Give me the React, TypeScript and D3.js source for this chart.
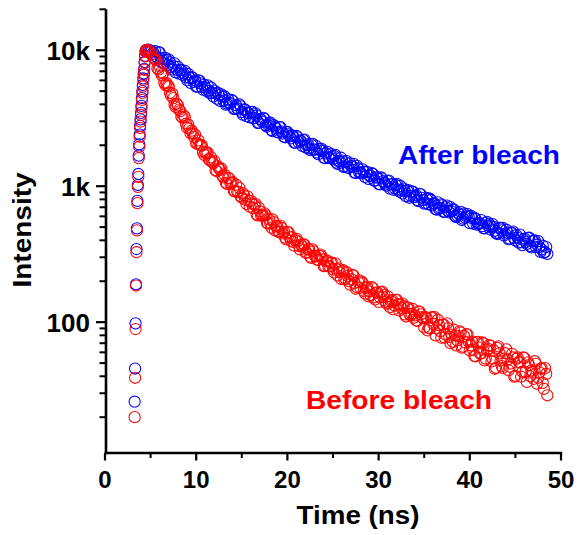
import React from "react";
import * as d3 from "d3";

// ---------- data ----------
const riseTimes = [3.25, 3.3, 3.35, 3.4, 3.45, 3.5, 3.55, 3.6, 3.65, 3.7, 3.75, 3.8, 3.85, 3.9, 3.95, 4.0, 4.05, 4.1, 4.15, 4.2, 4.25, 4.3, 4.35, 4.4, 4.45, 4.5];
const peakTimes = [4.65, 4.8, 4.95, 5.1, 5.3];
const decayTimes = [
  5.5, 5.75,
  6, 6.25, 6.5, 6.75, 7, 7.25, 7.5, 7.75, 8, 8.25, 8.5, 8.75, 9, 9.25, 9.5, 9.75,
  10, 10.25, 10.5, 10.75, 11, 11.25, 11.5, 11.75, 12, 12.25, 12.5, 12.75, 13, 13.25, 13.5, 13.75,
  14, 14.25, 14.5, 14.75, 15, 15.25, 15.5, 15.75, 16, 16.25, 16.5, 16.75, 17, 17.25, 17.5, 17.75,
  18, 18.25, 18.5, 18.75, 19, 19.25, 19.5, 19.75, 20, 20.25, 20.5, 20.75, 21, 21.25, 21.5, 21.75,
  22, 22.25, 22.5, 22.75, 23, 23.25, 23.5, 23.75, 24, 24.25, 24.5, 24.75, 25, 25.25, 25.5, 25.75,
  26, 26.25, 26.5, 26.75, 27, 27.25, 27.5, 27.75, 28, 28.25, 28.5, 28.75, 29, 29.25, 29.5, 29.75,
  30, 30.25, 30.5, 30.75, 31, 31.25, 31.5, 31.75, 32, 32.25, 32.5, 32.75, 33, 33.25, 33.5, 33.75,
  34, 34.25, 34.5, 34.75, 35, 35.25, 35.5, 35.75, 36, 36.25, 36.5, 36.75, 37, 37.25, 37.5, 37.75,
  38, 38.25, 38.5, 38.75, 39, 39.25, 39.5, 39.75, 40, 40.25, 40.5, 40.75, 41, 41.25, 41.5, 41.75,
  42, 42.25, 42.5, 42.75, 43, 43.25, 43.5, 43.75, 44, 44.25, 44.5, 44.75, 45, 45.25, 45.5, 45.75,
  46, 46.25, 46.5, 46.75, 47, 47.25, 47.5, 47.75, 48, 48.25, 48.5,
];
const midTimes = [
  5.625, 5.875,
  6.125, 6.375, 6.625, 6.875, 7.125, 7.375, 7.625, 7.875, 8.125, 8.375, 8.625, 8.875, 9.125, 9.375, 9.625, 9.875,
  10.125, 10.375, 10.625, 10.875, 11.125, 11.375, 11.625, 11.875, 12.125, 12.375, 12.625, 12.875, 13.125, 13.375, 13.625, 13.875,
  14.125, 14.375, 14.625, 14.875, 15.125, 15.375, 15.625, 15.875, 16.125, 16.375, 16.625, 16.875, 17.125, 17.375, 17.625, 17.875,
  18.125, 18.375, 18.625, 18.875, 19.125, 19.375, 19.625, 19.875, 20.125, 20.375, 20.625, 20.875, 21.125, 21.375, 21.625, 21.875,
  22.125, 22.375, 22.625, 22.875, 23.125, 23.375, 23.625, 23.875, 24.125, 24.375, 24.625, 24.875, 25.125, 25.375, 25.625, 25.875,
  26.125, 26.375, 26.625, 26.875, 27.125, 27.375, 27.625, 27.875, 28.125, 28.375, 28.625, 28.875, 29.125, 29.375, 29.625, 29.875,
  30.125, 30.375, 30.625, 30.875, 31.125, 31.375, 31.625, 31.875, 32.125, 32.375, 32.625, 32.875, 33.125, 33.375, 33.625, 33.875,
  34.125, 34.375, 34.625, 34.875, 35.125, 35.375, 35.625, 35.875, 36.125, 36.375, 36.625, 36.875, 37.125, 37.375, 37.625, 37.875,
  38.125, 38.375, 38.625, 38.875, 39.125, 39.375, 39.625, 39.875, 40.125, 40.375, 40.625, 40.875, 41.125, 41.375, 41.625, 41.875,
  42.125, 42.375, 42.625, 42.875, 43.125, 43.375, 43.625, 43.875, 44.125, 44.375, 44.625, 44.875, 45.125, 45.375, 45.625, 45.875,
  46.125, 46.375, 46.625, 46.875, 47.125, 47.375, 47.625, 47.875, 48.125, 48.375,
];
const times = [...riseTimes, ...peakTimes, ...decayTimes];

const afterBleach = [
  // rise
  26, 45.6, 98, 190, 345, 490, 780, 1020, 1230, 1680, 2030, 2400, 2780, 3100, 3460, 3900, 4450, 5000, 5550, 6200, 6750, 7300, 8200, 9100, 9850, 10000,
  // peak
  10100, 10050, 9950, 9800, 9650,
  // decay
  9840, 8760,
  9620, 8570, 7990, 8510, 8520, 7500, 7670, 6870, 7540, 7120, 6580, 7060, 6030, 6260, 6350, 5840,
  5400, 6010, 5700, 5130, 5320, 5510, 4830, 4860, 5040, 4410, 4670, 4740, 4240, 3980, 4350, 4080,
  4230, 3710, 3740, 3990, 3500, 3680, 3280, 3450, 3510, 3170, 3430, 2920, 3130, 2970, 3120, 2740,
  2900, 2590, 2810, 2670, 2490, 2720, 2440, 2290, 2510, 2340, 2360, 2090, 2340, 2100, 2140, 2180,
  1930, 2030, 1840, 2050, 1860, 1770, 1880, 1880, 1620, 1740, 1630, 1730, 1580, 1700, 1460, 1525,
  1540, 1400, 1530, 1360, 1400, 1460, 1250, 1350, 1265, 1330, 1170, 1270, 1190, 1250, 1100, 1160,
  1040, 1160, 1090, 1030, 1090, 960, 1035, 968, 1040, 916, 938, 959, 843, 936, 850, 913,
  839, 791, 877, 822, 745, 803, 736, 792, 748, 678, 761, 692, 723, 650, 720, 642,
  652, 673, 593, 633, 648, 577, 586, 624, 534, 582, 584, 521, 529, 563, 492, 536,
  512, 480, 526, 470, 445, 494, 473, 434, 477, 408, 453, 464, 399, 417, 440, 369,
  411, 377, 418, 355, 395, 358, 395, 329, 365, 328, 318,
];
const afterBleachMid = [
  9020, 9680,
  8250, 8740, 8790, 7810, 8150, 7220, 8010, 7180, 6730, 7170, 6740, 6320, 6690, 5750, 6240, 6010,
  5420, 5950, 5350, 5560, 5030, 5050, 5320, 4580, 4810, 4860, 4240, 4550, 4570, 4050, 4070, 4320,
  3700, 3940, 3670, 3870, 3360, 3650, 3480, 3210, 3520, 3170, 3300, 2930, 3080, 3180, 2810, 2830,
  2930, 2540, 2750, 2510, 2710, 2520, 2310, 2500, 2410, 2250, 2330, 2090, 2290, 2170, 1980, 2200,
  2000, 1900, 2020, 1860, 1980, 1720, 1830, 1820, 1610, 1790, 1610, 1640, 1670, 1490, 1520, 1620,
  1390, 1500, 1370, 1470, 1400, 1260, 1410, 1260, 1240, 1280, 1280, 1130, 1190, 1230, 1100, 1160,
  1030, 1140, 1060, 1010, 1100, 1030, 941, 1021, 943, 1006, 884, 920, 930, 822, 912, 830,
  858, 775, 870, 789, 754, 817, 809, 722, 745, 673, 682, 735, 647, 698, 659, 703,
  674, 605, 608, 620, 564, 630, 600, 599, 606, 530, 575, 533, 532, 509, 490, 547,
  529, 503, 503, 452, 454, 493, 493, 448, 456, 412, 454, 415, 436, 385, 388, 405,
  388, 415, 363, 395, 399, 371, 357, 343, 324, 357,
];

const beforeBleach = [
  // rise
  20, 39, 89, 186, 327, 473, 750, 989, 1172, 1610, 1950, 2312, 2680, 2985, 3340, 3765, 4313, 4856, 5405, 6057, 6597, 7180, 8085, 9000, 9800, 10000,
  // peak
  10050, 9950, 9750, 9300, 8850,
  // decay
  8620, 7370,
  7600, 6520, 5780, 5740, 5410, 4630, 4440, 3830, 3930, 3570, 3190, 3220, 2690, 2650, 2560, 2300,
  2060, 2170, 2010, 1780, 1770, 1770, 1550, 1510, 1530, 1290, 1350, 1350, 1160, 1060, 1150, 1050,
  1070, 914, 911, 969, 822, 857, 742, 781, 781, 690, 742, 609, 653, 610, 631, 539,
  569, 496, 544, 506, 465, 511, 449, 418, 458, 421, 422, 365, 410, 363, 370, 374,
  325, 344, 303, 343, 308, 288, 307, 305, 258, 280, 257, 274, 244, 271, 221, 233,
  237, 206, 233, 200, 207, 220, 176, 198, 179, 194, 163, 182, 168, 181, 152, 165,
  141, 166, 153, 142, 155, 129, 145, 132, 146, 122, 127, 131, 110, 128, 112, 125,
  112, 102, 119, 109, 91.5, 108, 91, 108, 97, 80, 104, 86, 96, 77, 98, 78,
  81, 88, 67.5, 79, 84, 66, 71, 81, 62, 72, 56.5, 71, 65, 59, 70, 54,
  63.6, 67, 54, 45.4, 64.6, 59, 47.5, 54, 63, 44.3, 49.7, 55, 40.3, 55, 50.5, 43.2,
  54.5, 36.4, 48.4, 44.2, 38.3, 49.3, 39.1, 45.5, 35.8, 45.9, 29,
];
const beforeBleachMid = [
  8420, 7210,
  6840, 6760, 5540, 5480, 4850, 4790, 3990, 4040, 3660, 3240, 3320, 2880, 2840, 2450, 2440, 2400,
  2070, 2010, 1990, 1700, 1760, 1580, 1630, 1480, 1310, 1400, 1320, 1190, 1210, 1040, 1140, 1050,
  925, 1027, 908, 845, 888, 795, 842, 707, 744, 728, 621, 692, 607, 609, 610, 530,
  534, 569, 474, 511, 458, 493, 461, 406, 459, 398, 390, 400, 395, 343, 359, 371,
  324, 343, 297, 332, 305, 287, 314, 289, 259, 283, 257, 274, 232, 245, 249, 208,
  241, 210, 219, 189, 223, 194, 181, 203, 199, 170, 179, 155, 158, 177, 147, 165,
  153, 168, 159, 137, 138, 142, 124, 146, 136, 135, 137, 114, 128, 115, 115, 108,
  103, 120, 114, 107, 109, 87, 90, 109, 109, 90, 95, 77, 96, 81, 90, 70,
  72, 80, 73.5, 85.7, 65, 79, 81.7, 71.9, 67.5, 62.3, 56.1, 71.6, 58.7, 70.9, 52.3, 62.3,
  67.8, 51.4, 61.9, 46.2, 66.4, 52.2, 46.1, 59.1, 53, 47, 58.5, 39.7, 53.7, 50.9, 39.7, 55,
  43.1, 50.6, 40, 43, 51.6, 35.3, 42.7, 45.8, 32.3, 41.6,
];

const xMajorTicks = [0, 10, 20, 30, 40, 50];
const xMinorTicks = [5, 15, 25, 35, 45];
const yMajorTicks = [100, 1000, 10000];
const yMajorLabels = ["100", "1k", "10k"];
const yMinorTicks = [20, 30, 40, 50, 60, 70, 80, 90, 200, 300, 400, 500, 600, 700, 800, 900, 2000, 3000, 4000, 5000, 6000, 7000, 8000, 9000, 20000];

const xTitle = "Time (ns)";
const yTitle = "Intensity";
const seriesNames = ["After bleach", "Before bleach"];

// ---------- layout ----------
const W = 579;
const H = 535;
const FONT = "'Liberation Sans', Arial, Helvetica, sans-serif";
const BLUE = "#0000ff";
const RED = "#ff0000";

function pairs(ts: number[], vs: number[]) {
  const out: { t: number; v: number }[] = [];
  const n = Math.min(ts.length, vs.length);
  for (let i = 0; i < n; i++) out.push({ t: ts[i], v: vs[i] });
  return out;
}

export default function App() {
  const x = d3.scaleLinear().domain([0, 50]).range([105, 561]);
  const y = d3.scaleLog().domain([11, 20000]).range([452.5, 9.3]);
  const axisX = 106;
  const axisY = 453;

  const blue = [...pairs(times, afterBleach), ...pairs(midTimes, afterBleachMid)].sort((a, b) => a.t - b.t);
  const red = [...pairs(times, beforeBleach), ...pairs(midTimes, beforeBleachMid)].sort((a, b) => a.t - b.t);

  const r = 5.6;

  return (
    <div style={{ position: "fixed", left: 0, top: 0, width: W, height: H, background: "#fff" }}>
      <svg width={W} height={H} viewBox={`0 0 ${W} ${H}`} style={{ display: "block" }}>
        <rect x={0} y={0} width={W} height={H} fill="#fff" />

        {/* series */}
        <g>
          {blue.map((d, i) => (
            <circle key={"b" + i} cx={x(d.t)} cy={y(d.v)} r={r} fill="none" stroke={BLUE} strokeWidth={1.05} />
          ))}
        </g>
        <g>
          {red.map((d, i) => (
            <circle key={"r" + i} cx={x(d.t)} cy={y(d.v)} r={r} fill="none" stroke={RED} strokeWidth={1.05} />
          ))}
        </g>

        {/* y axis */}
        <line x1={axisX} x2={axisX} y1={y(20000)} y2={axisY + 1.2} stroke="#000" strokeWidth={2.6} />
        {yMinorTicks.map((v) => (
          <line key={"ym" + v} x1={axisX - 6.5} x2={axisX} y1={y(v)} y2={y(v)} stroke="#000" strokeWidth={2} />
        ))}
        {yMajorTicks.map((v, i) => (
          <g key={"yM" + v}>
            <line x1={axisX - 10} x2={axisX} y1={y(v)} y2={y(v)} stroke="#000" strokeWidth={2.2} />
            <text
              x={90}
              y={y(v)}
              dy="0.36em"
              textAnchor="end"
              fontFamily={FONT}
              fontWeight="bold"
              fontSize={26}
              fill="#000"
            >
              {yMajorLabels[i]}
            </text>
          </g>
        ))}

        {/* x axis */}
        <line x1={axisX - 1.3} x2={x(50) + 1.2} y1={axisY} y2={axisY} stroke="#000" strokeWidth={2.6} />
        {xMinorTicks.map((v) => (
          <line key={"xm" + v} x1={x(v)} x2={x(v)} y1={axisY} y2={axisY + 5} stroke="#000" strokeWidth={2} />
        ))}
        {xMajorTicks.map((v) => (
          <g key={"xM" + v}>
            <line x1={x(v)} x2={x(v)} y1={axisY} y2={axisY + 7.5} stroke="#000" strokeWidth={2.2} />
            <text
              x={x(v)}
              y={488}
              textAnchor="middle"
              fontFamily={FONT}
              fontWeight="bold"
              fontSize={24}
              fill="#000"
            >
              {v}
            </text>
          </g>
        ))}

        {/* axis titles */}
        <text
          x={358}
          y={524}
          textAnchor="middle"
          fontFamily={FONT}
          fontWeight="bold"
          fontSize={25}
          textLength={123}
          lengthAdjust="spacingAndGlyphs"
          fill="#000"
        >
          {xTitle}
        </text>
        <text
          transform={`translate(31,230) rotate(-90)`}
          textAnchor="middle"
          fontFamily={FONT}
          fontWeight="bold"
          fontSize={25}
          textLength={115}
          lengthAdjust="spacingAndGlyphs"
          fill="#000"
        >
          {yTitle}
        </text>

        {/* annotations */}
        <text
          x={398}
          y={164}
          fontFamily={FONT}
          fontWeight="bold"
          fontSize={26.5}
          textLength={162}
          lengthAdjust="spacingAndGlyphs"
          fill={BLUE}
        >
          {seriesNames[0]}
        </text>
        <text
          x={306}
          y={409}
          fontFamily={FONT}
          fontWeight="bold"
          fontSize={26.5}
          textLength={186}
          lengthAdjust="spacingAndGlyphs"
          fill={RED}
        >
          {seriesNames[1]}
        </text>
      </svg>
    </div>
  );
}
